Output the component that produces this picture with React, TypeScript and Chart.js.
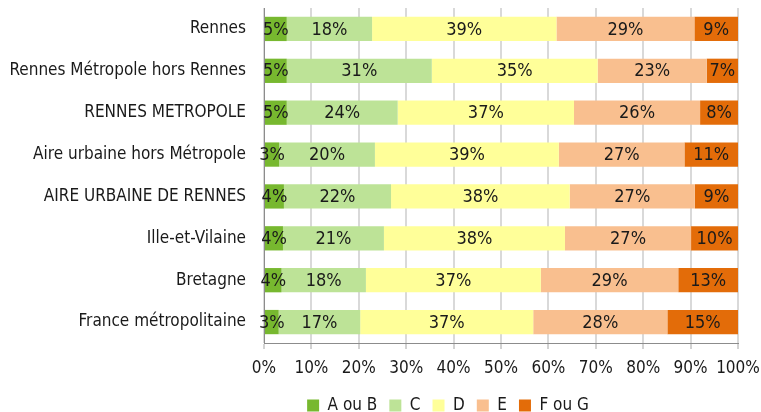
import React, { useEffect, useRef } from "react";
import { Chart, registerables } from "chart.js";

Chart.register(...registerables);

const categories = [
  "Rennes",
  "Rennes Métropole hors Rennes",
  "RENNES METROPOLE",
  "Aire urbaine hors Métropole",
  "AIRE URBAINE DE RENNES",
  "Ille-et-Vilaine",
  "Bretagne",
  "France métropolitaine",
];

const seriesNames = ["A ou B", "C", "D", "E", "F ou G"];

const valuesAB = [4.8, 4.8, 4.8, 3.2, 4.2, 4.0, 3.7, 3.1];
const valuesC = [18.0, 30.6, 23.4, 20.2, 22.6, 21.3, 17.8, 17.2];
const valuesD = [38.9, 35.0, 37.2, 38.8, 37.7, 38.2, 36.9, 36.5];
const valuesE = [29.1, 23.0, 26.6, 26.5, 26.4, 26.6, 29.0, 28.3];
const valuesFG = [9.2, 6.6, 8.0, 11.3, 9.1, 9.9, 12.6, 14.9];

const labelsAB = ["5%", "5%", "5%", "3%", "4%", "4%", "4%", "3%"];
const labelsC = ["18%", "31%", "24%", "20%", "22%", "21%", "18%", "17%"];
const labelsD = ["39%", "35%", "37%", "39%", "38%", "38%", "37%", "37%"];
const labelsE = ["29%", "23%", "26%", "27%", "27%", "27%", "29%", "28%"];
const labelsFG = ["9%", "7%", "8%", "11%", "9%", "10%", "13%", "15%"];

const colors = ["#77b82f", "#bde397", "#ffff99", "#f9bf8f", "#e36c09"];

const FONT = "'DejaVu Sans Condensed', sans-serif";

const dataLabelPlugin = {
  id: "dataLabels",
  afterDatasetsDraw(chart: any) {
    const ctx = chart.ctx;
    const allLabels = [labelsAB, labelsC, labelsD, labelsE, labelsFG];
    ctx.save();
    ctx.font = `18px ${FONT}`;
    ctx.fillStyle = "#1a1a1a";
    ctx.textAlign = "center";
    ctx.textBaseline = "middle";
    chart.data.datasets.forEach((ds: any, di: number) => {
      const meta = chart.getDatasetMeta(di);
      meta.data.forEach((bar: any, i: number) => {
        const x = (bar.x + bar.base) / 2;
        ctx.fillText(allLabels[di][i], x, bar.y + 1);
      });
    });
    ctx.restore();
  },
};

const legendShiftPlugin = {
  id: "legendShift",
  afterLayout(chart: any) {
    const lg = chart.legend;
    if (lg) {
      lg.left += 79;
      lg.right += 79;
    }
  },
};

export default function App() {
  const ref = useRef<HTMLCanvasElement>(null);
  useEffect(() => {
    if (!ref.current) return;
    const all = [valuesAB, valuesC, valuesD, valuesE, valuesFG];
    const chart = new Chart(ref.current, {
      type: "bar",
      data: {
        labels: categories,
        datasets: seriesNames.map((name, i) => ({
          label: name,
          data: all[i],
          backgroundColor: colors[i],
          borderWidth: 0,
          barPercentage: 0.58,
          categoryPercentage: 1,
        })),
      },
      options: {
        indexAxis: "y",
        animation: false,
        responsive: false,
        devicePixelRatio: 1,
        layout: { padding: { left: 0, right: 23, top: 8, bottom: -12 } },
        scales: {
          x: {
            stacked: true,
            min: 0,
            max: 100,
            ticks: {
              stepSize: 10,
              maxRotation: 0,
              minRotation: 0,
              callback: (v: any) => v + "%",
              color: "#1a1a1a",
              font: { family: FONT, size: 17 },
              padding: 9,
            },
            grid: {
              color: "#d9d9d9",
              lineWidth: 2,
              tickColor: "#a6a6a6",
              tickLength: 6,
              tickWidth: 1,
            },
            border: { color: "#8c8c8c", width: 1 },
            afterFit: (scale: any) => {
              scale.paddingLeft = 0;
              scale.paddingRight = 0;
              scale.height = 42;
            },
          },
          y: {
            stacked: true,
            grid: { display: false, drawTicks: false },
            border: { color: "#8c8c8c", width: 1 },
            ticks: {
              color: "#1a1a1a",
              font: { family: FONT, size: 17 },
              padding: 18,
            },
            afterFit: (scale: any) => {
              scale.width = 264;
              scale.paddingTop = 0;
              scale.paddingBottom = 0;
            },
          },
        },
        plugins: {
          legend: {
            position: "bottom",
            labels: {
              boxWidth: 12,
              boxHeight: 12,
              padding: 12,
              color: "#1a1a1a",
              font: { family: FONT, size: 17 },
            },
          },
          tooltip: { enabled: false },
        },
      },
      plugins: [dataLabelPlugin, legendShiftPlugin],
    });
    return () => chart.destroy();
  }, []);
  return (
    <div style={{ position: "fixed", left: 0, top: 0, width: 761, height: 412, background: "#fff" }}>
      <canvas ref={ref} width={761} height={412} />
    </div>
  );
}
